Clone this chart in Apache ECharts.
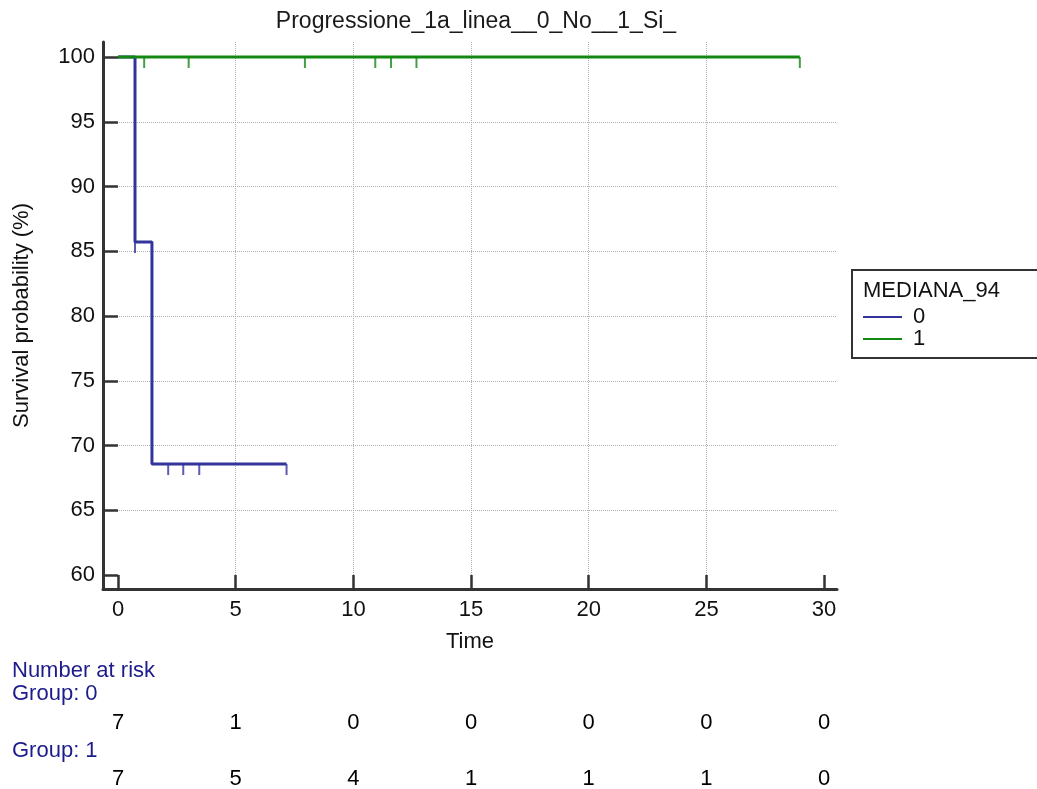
<!DOCTYPE html>
<html>
<head>
<meta charset="utf-8">
<script src="https://cdn.jsdelivr.net/npm/echarts@6/dist/echarts.min.js"></script>
<style>
html,body{margin:0;padding:0;background:#fff;}
#chart{width:1037px;height:789px;}
</style>
</head>
<body>
<div id="chart"></div>
<script>
// ---- data ----
const chartTitle = 'Progressione_1a_linea__0_No__1_Si_';
const legendTitle = 'MEDIANA_94';
const groupNames = ['0', '1'];
const xTicks = [0, 5, 10, 15, 20, 25, 30];
const yTicks = [60, 65, 70, 75, 80, 85, 90, 95, 100];

// group 0 Kaplan-Meier steps
const g0Times = [0, 0.72, 1.44, 7.16];
const g0Surv = [100, 85.71, 68.57, 68.57];
const g0CensorTimes = [0.72, 2.13, 2.77, 3.45, 7.16];
const g0CensorSurv = [85.71, 68.57, 68.57, 68.57, 68.57];

// group 1 Kaplan-Meier steps
const g1Times = [0, 28.97];
const g1Surv = [100, 100];
const g1CensorTimes = [1.11, 3.0, 7.94, 10.93, 11.6, 12.68, 28.97];
const g1CensorSurv = [100, 100, 100, 100, 100, 100, 100];

// number at risk
const riskTimes = [0, 5, 10, 15, 20, 25, 30];
const risk0 = [7, 1, 0, 0, 0, 0, 0];
const risk1 = [7, 5, 4, 1, 1, 1, 0];

// ---- build ----
const blue = '#33339c';
const green = '#128812';
const axisColor = '#333333';
const FONT = '"Liberation Sans", Arial, sans-serif';
const FS = 22;

function pairs(xs, ys) { return xs.map((x, i) => [x, ys[i]]); }

const chart = echarts.init(document.getElementById('chart'), null, {renderer: 'canvas'});

const censorSeries = (name, xs, ys, color) => ({
  name: name, type: 'scatter', xAxisIndex: 0, yAxisIndex: 0,
  data: pairs(xs, ys), symbol: 'rect', symbolSize: [2, 11], symbolOffset: [0, 5.5],
  itemStyle: {color: color}, silent: true, z: 4
});

const riskSeries = (row, vals) => ({
  name: 'risk' + row, type: 'scatter', xAxisIndex: 1, yAxisIndex: 1,
  data: riskTimes.map((t, i) => [t, row, vals[i]]),
  symbolSize: 1, itemStyle: {color: '#ffffff'},
  label: {show: true, position: 'inside', formatter: p => String(p.data[2]),
          color: '#000', opacity: 1, textBorderWidth: 0, fontSize: FS, fontFamily: FONT},
  silent: true
});

chart.setOption({
  backgroundColor: '#fff',
  animation: false,
  title: {
    text: chartTitle, left: 471, top: 5, textAlign: 'center',
    textStyle: {fontSize: 23, fontWeight: 'normal', color: '#1a1a1a', fontFamily: FONT}
  },
  legend: {
    data: groupNames, orient: 'vertical', left: 852, top: 270,
    padding: [36, 120, 8, 11], itemGap: 0, itemWidth: 39, itemHeight: 2, icon: 'rect',
    borderColor: axisColor, borderWidth: 2, borderRadius: 0,
    textStyle: {fontSize: FS, color: '#111', fontFamily: FONT, padding: [0, 0, 0, 6]},
    selectedMode: false
  },
  graphic: [
    {type: 'text', left: 863, top: 280, style: {text: legendTitle, fontSize: FS, fill: '#111', fontFamily: FONT}},
    {type: 'text', left: 12, top: 660, style: {text: 'Number at risk', fontSize: FS, fill: '#1c1c8a', fontFamily: FONT}},
    {type: 'text', left: 12, top: 683, style: {text: 'Group: 0', fontSize: FS, fill: '#1c1c8a', fontFamily: FONT}},
    {type: 'text', left: 12, top: 740, style: {text: 'Group: 1', fontSize: FS, fill: '#1c1c8a', fontFamily: FONT}}
  ],
  grid: [
    {left: 103, top: 42, width: 734, height: 547},
    {left: 103, top: 723, width: 734, height: 56}
  ],
  xAxis: [
    {
      type: 'value', gridIndex: 0, min: -0.64, max: 30.55, splitNumber: 6,
      name: 'Time', nameLocation: 'middle', nameGap: 42,
      nameTextStyle: {fontSize: FS, color: '#111', fontFamily: FONT},
      axisLine: {show: true, onZero: false, lineStyle: {color: axisColor, width: 3}},
      axisTick: {show: true, inside: true, length: 14, customValues: xTicks, lineStyle: {color: axisColor, width: 2.5}},
      axisLabel: {customValues: xTicks, fontSize: FS, color: '#111', fontFamily: FONT, margin: 10},
      splitLine: {show: true, showMinLine: false, showMaxLine: false, lineStyle: {type: 'dotted', color: '#b0b0b0', width: 1}}
    },
    {
      type: 'value', gridIndex: 1, min: -0.64, max: 30.55, show: false
    }
  ],
  yAxis: [
    {
      type: 'value', gridIndex: 0, min: 58.92, max: 101.16, splitNumber: 8,
      name: 'Survival probability (%)', nameLocation: 'middle', nameGap: 70,
      nameTextStyle: {fontSize: FS, color: '#111', fontFamily: FONT},
      axisLine: {show: true, onZero: false, lineStyle: {color: axisColor, width: 3}},
      axisTick: {show: true, inside: true, length: 15, customValues: yTicks, lineStyle: {color: axisColor, width: 2.5}},
      axisLabel: {customValues: yTicks, fontSize: FS, color: '#111', fontFamily: FONT, margin: 8},
      splitLine: {show: true, showMinLine: false, showMaxLine: false, lineStyle: {type: 'dotted', color: '#b0b0b0', width: 1}}
    },
    {
      type: 'category', gridIndex: 1, data: ['0', '1'], inverse: true, boundaryGap: false, show: false
    }
  ],
  series: [
    {
      name: groupNames[0], type: 'line', step: 'end', xAxisIndex: 0, yAxisIndex: 0,
      data: pairs(g0Times, g0Surv), showSymbol: false, symbol: 'none',
      lineStyle: {color: blue, width: 3}, itemStyle: {color: blue}, z: 3
    },
    censorSeries('c0', g0CensorTimes, g0CensorSurv, blue),
    {
      name: groupNames[1], type: 'line', step: 'end', xAxisIndex: 0, yAxisIndex: 0,
      data: pairs(g1Times, g1Surv), showSymbol: false, symbol: 'none',
      lineStyle: {color: green, width: 3}, itemStyle: {color: green}, z: 5
    },
    censorSeries('c1', g1CensorTimes, g1CensorSurv, green),
    riskSeries(0, risk0),
    riskSeries(1, risk1)
  ]
});
</script>
</body>
</html>
